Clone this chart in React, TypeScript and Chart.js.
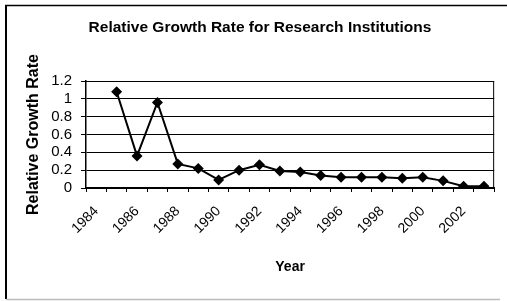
import React, { useEffect, useRef } from "react";
import { Chart, registerables } from "chart.js";

Chart.register(...registerables);

const years: string[] = [
  "1984", "1985", "1986", "1987", "1988", "1989", "1990", "1991", "1992", "1993",
  "1994", "1995", "1996", "1997", "1998", "1999", "2000", "2001", "2002", "2003",
];
const growthRate: (number | null)[] = [
  null, 1.08, 0.36, 0.96, 0.27, 0.22, 0.09, 0.2, 0.26, 0.19,
  0.18, 0.14, 0.12, 0.12, 0.12, 0.11, 0.12, 0.08, 0.02, 0.02,
];
const yTicks: number[] = [0, 0.2, 0.4, 0.6, 0.8, 1, 1.2];

const FONT = "'Liberation Sans', Arial, sans-serif";

const framePlugin = {
  id: "frame",
  beforeDraw(chart: any) {
    const ctx = chart.ctx;
    ctx.save();
    ctx.fillStyle = "#ffffff";
    ctx.fillRect(0, 0, chart.width, chart.height);
    ctx.strokeStyle = "#000";
    ctx.lineWidth = 2;
    ctx.beginPath();
    ctx.moveTo(6, 5);
    ctx.lineTo(6, 299);
    ctx.stroke();
    ctx.lineWidth = 1.5;
    ctx.beginPath();
    ctx.moveTo(5, 5.5);
    ctx.lineTo(507, 5.5);
    ctx.stroke();
    ctx.strokeStyle = "#bbbbbb";
    ctx.lineWidth = 1.5;
    ctx.beginPath();
    ctx.moveTo(6, 299.5);
    ctx.lineTo(500, 299.5);
    ctx.stroke();
    ctx.restore();
  },
  afterDatasetsDraw(chart: any) {
    const { ctx, chartArea } = chart;
    ctx.save();
    ctx.strokeStyle = "#000";
    ctx.lineWidth = 1;
    ctx.beginPath();
    ctx.moveTo(chartArea.left, chartArea.top + 0.5);
    ctx.lineTo(chartArea.right - 0.5, chartArea.top + 0.5);
    ctx.lineTo(chartArea.right - 0.5, chartArea.bottom);
    ctx.stroke();
    ctx.restore();
  },
};

export default function App() {
  const ref = useRef<HTMLCanvasElement>(null);
  useEffect(() => {
    if (!ref.current) return;
    const chart = new Chart(ref.current, {
      type: "line",
      data: {
        labels: years,
        datasets: [
          {
            data: growthRate,
            borderColor: "#000",
            backgroundColor: "#000",
            borderWidth: 2,
            pointStyle: "rectRot",
            pointRadius: 5.5,
            pointBorderWidth: 0,
            pointBackgroundColor: "#000",
            tension: 0,
            spanGaps: false,
          },
        ],
      },
      options: {
        responsive: false,
        animation: false,
        layout: { padding: { left: 20, right: 7, top: 0, bottom: 0 } },
        plugins: {
          legend: { display: false },
          tooltip: { enabled: false },
          title: {
            display: true,
            text: "Relative Growth Rate for Research Institutions",
            color: "#000",
            font: { family: FONT, size: 15.5, weight: "bold" },
            padding: { top: 18.5, bottom: 43.9 },
          },
        },
        scales: {
          x: {
            type: "category",
            offset: true,
            afterFit(scale: any) {
              scale.height = 113;
            },
            grid: {
              offset: true,
              drawOnChartArea: false,
              drawTicks: true,
              tickLength: 4,
              color: "#000",
              lineWidth: 1,
            },
            border: { display: true, color: "#000", width: 2 },
            ticks: {
              autoSkip: false,
              minRotation: 45,
              maxRotation: 45,
              padding: 11,
              color: "#000",
              font: { family: FONT, size: 14 },
              callback(value: any, index: number) {
                const label = years[index];
                return Number(label) % 2 === 0 ? label : "";
              },
            },
            title: {
              display: true,
              text: "Year",
              color: "#000",
              font: { family: FONT, size: 14, weight: "bold" },
              padding: { top: 0, bottom: 25.6 },
            },
          },
          y: {
            min: 0,
            max: 1.2,
            afterFit(scale: any) {
              scale.width = 66;
            },
            afterBuildTicks(scale: any) {
              scale.ticks = yTicks.map((v) => ({ value: v }));
            },
            grid: {
              color: "#000",
              lineWidth: 1,
              drawTicks: true,
              tickLength: 5,
            },
            border: { display: true, color: "#000", width: 1.5 },
            ticks: {
              autoSkip: false,
              padding: 9,
              color: "#000",
              font: { family: FONT, size: 15 },
              callback(value: any) {
                return String(Math.round(Number(value) * 10) / 10);
              },
            },
            title: {
              display: true,
              text: "Relative Growth Rate",
              color: "#000",
              font: { family: FONT, size: 16, weight: "bold" },
              padding: { top: 3.5, bottom: 0 },
            },
          },
        },
      },
      plugins: [framePlugin],
    });
    return () => chart.destroy();
  }, []);
  return (
    <div style={{ position: "absolute", left: 0, top: 0, width: 507, height: 301 }}>
      <canvas ref={ref} width={507} height={301} style={{ width: 507, height: 301 }} />
    </div>
  );
}
